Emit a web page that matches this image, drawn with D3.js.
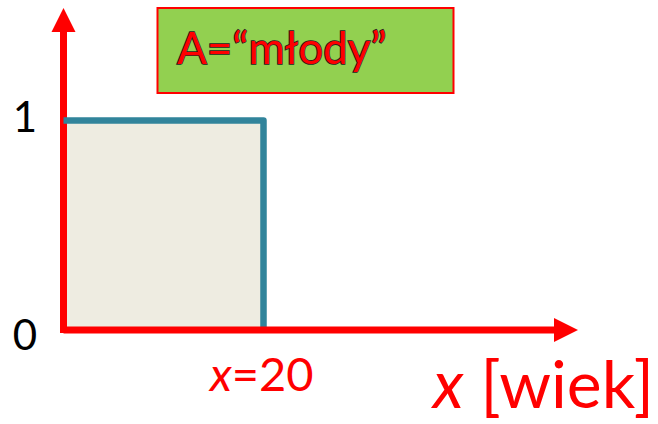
<!DOCTYPE html>
<html lang="pl">
<head>
    <meta charset="UTF-8">
    <title>A = młody</title>
    <style>
        body{ margin:0; background:#fff; }
        svg{ display:block; }
    </style>
</head>
<body>
    <script src="https://cdnjs.cloudflare.com/ajax/libs/d3/7.8.2/d3.min.js"></script>
    <script>
        // funkcja przynależności "młody" (skok w x=20)
        const stepX = [0, 20, 20];
        const stepY = [1, 1, 0];
        const yTicks = [0, 1];
        const xMark = 20;
        const setLabel = "A=\u201Cmłody\u201D";
        const axisLabel = "[wiek]";

        const w = 658;
        const h = 424;
        const red = "#ff0000";

        const svg = d3.select("body")
            .append("svg")
            .attr("width", w)
            .attr("height", h);

        const x = d3.scaleLinear().domain([0, 50]).range([63.5, 563.5]);
        const y = d3.scaleLinear().domain([0, 1]).range([330, 120.5]);

        const pts = stepX.map((d, i) => [d, stepY[i]]);

        // obszar pod funkcją
        const area = d3.area()
            .x(d => x(d[0]))
            .y0(y(0))
            .y1(d => y(d[1]));
        svg.append("path")
            .attr("d", area(pts.slice(0, 2)))
            .attr("fill", "#eeece1");

        // osie
        svg.append("line")
            .attr("x1", x(0)).attr("y1", y(0) + 3)
            .attr("x2", x(0)).attr("y2", 30)
            .attr("stroke", red).attr("stroke-width", 7);
        svg.append("path")
            .attr("d", `M${x(0)},8 L${x(0) + 12},32 L${x(0) - 12},32 Z`)
            .attr("fill", red);

        // linia funkcji
        const line = d3.line().x(d => x(d[0])).y(d => y(d[1]));
        svg.append("path")
            .attr("d", line(pts))
            .attr("fill", "none")
            .attr("stroke", "#31849b")
            .attr("stroke-width", 6.5)
            .attr("stroke-linejoin", "round");

        svg.append("line")
            .attr("x1", x(0)).attr("y1", y(0))
            .attr("x2", 556).attr("y2", y(0))
            .attr("stroke", red).attr("stroke-width", 7);
        svg.append("path")
            .attr("d", `M578,${y(0)} L554,${y(0) - 12} L554,${y(0) + 12} Z`)
            .attr("fill", red);

        // etykiety osi Y
        svg.selectAll("text.tick")
            .data(yTicks)
            .enter()
            .append("text")
                .attr("class", "tick")
                .attr("x", 25)
                .attr("y", d => y(d) + 14 + (d === 0 ? 6 : -3))
                .attr("text-anchor", "middle")
                .style("font-family", "Lato")
                .style("font-size", "42px")
                .attr("fill", "#000")
                .text(d => d);

        // x=20
        const t1 = svg.append("text")
            .attr("x", 210).attr("y", 391)
            .style("font-family", "Lato")
            .style("font-size", "47px")
            .attr("fill", red);
        t1.append("tspan").style("font-style", "italic").text("x");
        t1.append("tspan").text("=" + xMark);

        // x [wiek]
        const t2 = svg.append("text")
            .attr("x", 654).attr("y", 408)
            .attr("text-anchor", "end")
            .style("font-family", "Lato")
            .style("font-size", "66px")
            .attr("fill", red);
        t2.append("tspan").style("font-style", "italic").text("x");
        t2.append("tspan").text(" " + axisLabel);

        // ramka z nazwą zbioru
        svg.append("rect")
            .attr("x", 157.5).attr("y", 8)
            .attr("width", 296).attr("height", 85)
            .attr("fill", "#92d050")
            .attr("stroke", red)
            .attr("stroke-width", 2);
        svg.append("text")
            .attr("x", 177).attr("y", 64)
            .style("font-family", "Lato")
            .style("font-size", "44px")
            .attr("fill", red)
            .attr("stroke", "#222")
            .attr("stroke-width", 1.6)
            .attr("paint-order", "stroke")
            .text(setLabel);
    </script>
</body>
</html>
